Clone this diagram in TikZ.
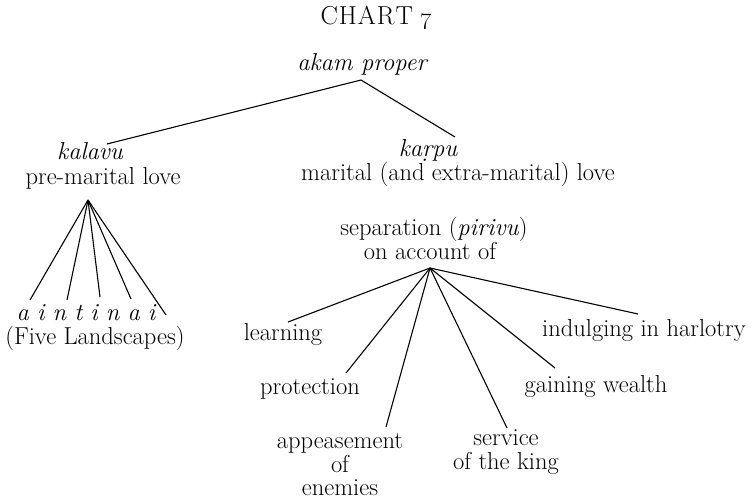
\documentclass[tikz,border=0pt]{standalone}
\begin{document}
\begin{tikzpicture}[x=1pt,y=-1pt,
  lbl/.style={inner sep=0pt,font=\fontsize{24.5}{23.5}\selectfont,align=center},
  ital/.style={lbl,font=\fontsize{24.5}{23.5}\selectfont\itshape},
  link/.style={line width=1.1pt}]
\useasboundingbox (0,0) rectangle (751,501);
\node[inner sep=0pt,font=\fontsize{26}{30}\selectfont] (title) at (376,18) {C\kern1ptH\kern1ptA\kern1ptR\kern1ptT\hspace{7pt}\oldstylenums{7}};
\node[ital] (akam) at (362,64) {akam proper};
\coordinate (akamapex) at (361,80);
% left branch
\node[ital] (kalavu) at (90,151) {kalavu};
\node[lbl] (premar) at (103,178) {pre-marital love};
\coordinate (kalend) at (107,144);
\coordinate (kalapex) at (88,200);
% right branch
\node[ital] (karpu) at (428,150) {ka\d{r}pu};
\node[lbl] (marital) at (458,174) {marital (and extra-marital) love};
\coordinate (karend) at (455,137);
\draw[link] (kalend) -- (akamapex) -- (karend);
% five landscapes
\node[ital] (tinai) at (86,313) {a\,\,i\,\,n\,\,t\,\,i\,\,n\,\,a\,\,i};
\node[lbl] (five) at (95,338) {(Five Landscapes)};
\coordinate (t1) at (30,300);
\coordinate (t2) at (67,300);
\coordinate (t3) at (100,297);
\coordinate (t4) at (131,299);
\coordinate (t5) at (166,315);
\foreach \t in {t1,t2,t3,t4,t5} \draw[link] (kalapex) -- (\t);
% separation
\node[lbl] (sep) at (434,229) {separation (\textit{pirivu})};
\node[lbl] (acc) at (430,251) {on account of};
\coordinate (sepapex) at (430,268);
\node[lbl] (learn) at (283,334) {learning};
\node[lbl] (prot) at (310,389) {protection};
\node[lbl] (appe) at (340,465) {appeasement\\of\\enemies};
\node[lbl] (serv) at (506,452) {service\\of the king};
\node[lbl] (gain) at (596,386) {gaining wealth};
\node[lbl,anchor=west] (indu) at (542,330) {indulging in harlotry};
\coordinate (e1) at (288,322);
\coordinate (e2) at (346,373);
\coordinate (e3) at (386,427);
\coordinate (e4) at (507,428);
\coordinate (e5) at (555,368);
\coordinate (e6) at (638,314);
\foreach \e in {e1,e2,e3,e4,e5,e6} \draw[link] (sepapex) -- (\e);
\end{tikzpicture}
\end{document}
